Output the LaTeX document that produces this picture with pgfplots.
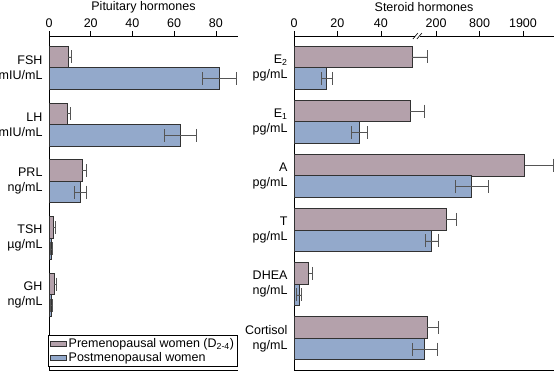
\documentclass[border=0pt]{standalone}
\usepackage{fontspec}
\setmainfont{Liberation Sans}
\usepackage{pgfplots}
\pgfplotsset{compat=1.18}
\definecolor{pre}{RGB}{180,161,171}
\definecolor{post}{RGB}{147,169,203}
\definecolor{edge}{RGB}{50,50,50}
\definecolor{errc}{RGB}{85,85,85}
\begin{document}
\begin{tikzpicture}
\path[use as bounding box] (0pt,0pt) rectangle (554pt,372pt);
\pgfplotsset{
 base/.style={
  scale only axis, height=334pt, anchor=south west,
  y dir=reverse,
  axis x line=top, axis y line=left,
  axis line style={-, line width=0.8pt, black},
  xbar,
  tick align=outside, major tick length=5pt,
  every tick/.style={black, line width=0.6pt},
  ytick style={draw=none},
  yticklabel style={align=right, xshift=2pt},
  /pgf/number format/assume math mode=true,
  font=\fontsize{12.5}{15}\selectfont,
  title style={at={(0.5,1)}, anchor=center, yshift=29pt},
  clip=false,
 },
 prebar/.style={fill=pre, draw=edge, line width=0.9pt, bar shift=10.75pt,
   error bars/.cd, x dir=plus, x explicit, error mark=|,
   error bar style={errc, line width=0.6pt},
   error mark options={errc, mark size=6.5pt, line width=0.6pt}},
 postbar/.style={fill=post, draw=edge, line width=0.9pt, bar shift=-10.75pt,
   error bars/.cd, x dir=both, x explicit, error mark=|,
   error bar style={errc, line width=0.6pt},
   error mark options={errc, mark size=6.5pt, line width=0.6pt}},
}
% Left panel
\begin{axis}[base, at={(49pt,2pt)}, width=189pt,
  xmin=0, xmax=90.6, ymin=-0.558, ymax=5.322,
  bar width=21.5pt,
  xtick={0,20,40,60,80},
  ytick={0,1,2,3,4},
  yticklabels={{FSH\\mIU/mL},{LH\\mIU/mL},{PRL\\ng/mL},{TSH\\µg/mL},{GH\\ng/mL}},
  legend style={at={(axis description cs:0,0)}, anchor=south west, xshift=-1pt, yshift=3pt,
    draw=black, line width=0.8pt, inner sep=1.5pt, row sep=-0.5pt,
    font=\fontsize{12.5}{14}\selectfont},
  legend cell align=left,
  legend image code/.code={\draw[#1, line width=0.8pt, bar shift=0pt] (0pt,-2.5pt) rectangle (16pt,2.5pt);},
]
\addplot[prebar] coordinates {(9.3,0) +- (1.6,0) (8.8,1) +- (1.6,0) (16.0,2) +- (2.1,0) (2.1,3) +- (0.8,0) (2.5,4) +- (1.2,0)};
\addlegendentry{Premenopausal women (D\textsubscript{2-4})}
\addplot[postbar] coordinates {(81.7,0) +- (8.1,0) (63.0,1) +- (7.7,0) (15.0,2) +- (2.7,0) (1.0,3) +- (0.6,0) (1.3,4) +- (0.5,0)};
\addlegendentry{Postmenopausal women}
\draw[line width=0.8pt] (axis cs:0,5.322) -- (axis cs:90.6,5.322);
\node[anchor=center] at ([yshift=29pt]axis cs:45.3,-0.558) {Pituitary hormones};
\end{axis}
% Right panel
\begin{axis}[base, at={(294pt,2pt)}, width=260pt,
  xmin=0, xmax=119.8, ymin=-0.586, ymax=5.586,
  bar width=21.6pt,
  xtick={0,20,40,65.5,85.5,105.5},
  xticklabels={0,20,40,200,800,1900},
  ytick={0,1,2,3,4,5},
  yticklabels={{E\textsubscript{2}\\pg/mL},{E\textsubscript{1}\\pg/mL},{A\\pg/mL},{T\\pg/mL},{DHEA\\ng/mL},{Cortisol\\ng/mL}},
]
\addplot[prebar] coordinates {(54.4,0) +- (6.9,0) (53.5,1) +- (6.4,0) (106.3,2) +- (13.2,0) (70.2,3) +- (4.5,0) (6.8,4) +- (1.4,0) (61.3,5) +- (5.4,0)};
\addplot[postbar] coordinates {(15.1,0) +- (2.5,0) (30.1,1) +- (3.7,0) (81.9,2) +- (7.8,0) (63.5,3) +- (2.9,0) (2.3,4) +- (1.2,0) (60.2,5) +- (5.6,0)};
\draw[line width=0.8pt] (axis cs:0,5.586) -- (axis cs:119.8,5.586);
\draw[white, line width=2pt] ([xshift=-2.5pt]axis cs:57.1,-0.586) -- ([xshift=2.5pt]axis cs:57.1,-0.586);
\draw[line width=0.6pt] ([xshift=-5pt,yshift=-3pt]axis cs:57.1,-0.586) -- ([xshift=0pt,yshift=3pt]axis cs:57.1,-0.586);
\draw[line width=0.6pt] ([xshift=-1pt,yshift=-3pt]axis cs:57.1,-0.586) -- ([xshift=4pt,yshift=3pt]axis cs:57.1,-0.586);
\node[anchor=center] at ([yshift=29pt]axis cs:59.9,-0.586) {Steroid hormones};
\end{axis}
\end{tikzpicture}
\end{document}
